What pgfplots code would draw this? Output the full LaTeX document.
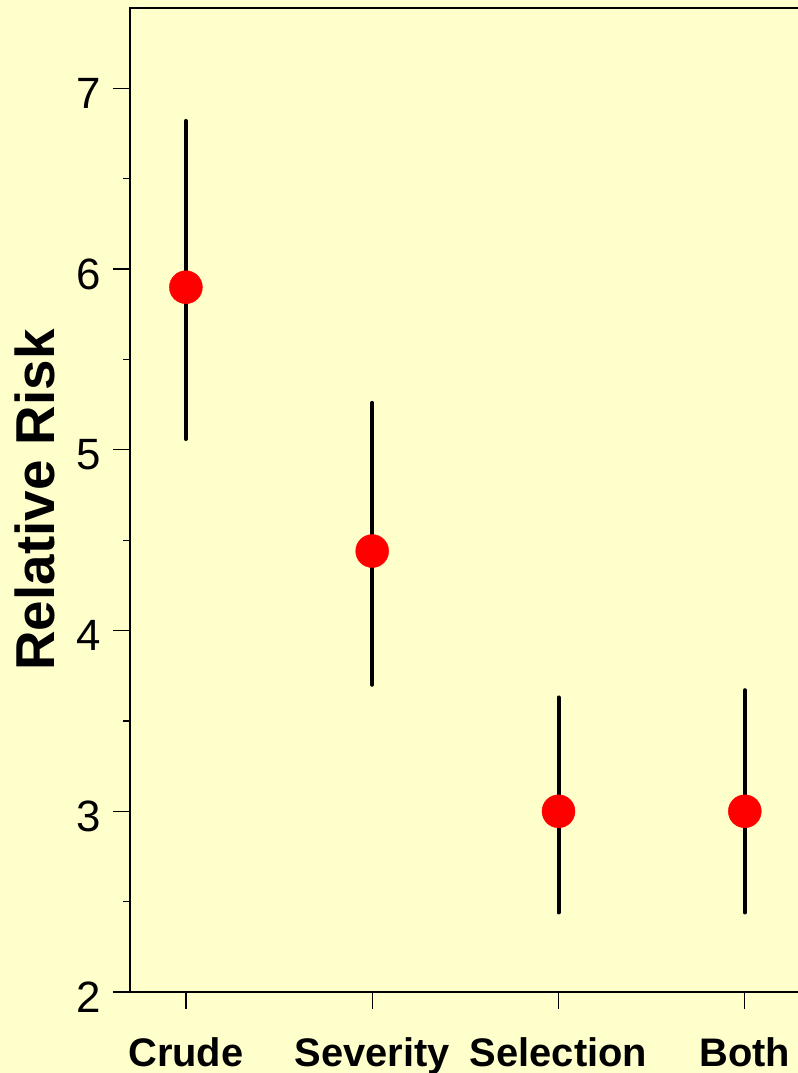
\documentclass[border=0pt]{standalone}
\usepackage{pgfplots}
\pgfplotsset{compat=1.18}
\usepackage{pgfplotstable}
\usepackage{fontspec}
\setmainfont{Liberation Sans}
\definecolor{bg}{HTML}{FFFFCC}
\pgfplotstableread{
x y lo hi
0 5.90 5.06 6.82
1 4.44 3.70 5.26
2 3.00 2.44 3.63
3 3.00 2.44 3.67
}\datatable
\begin{document}
\begin{tikzpicture}
\fill[bg] (-130bp,-81bp) rectangle (668bp,992bp);
\begin{axis}[
  at={(0,0)}, anchor=south west,
  scale only axis, width=670.7bp, height=984bp,
  xmin=-0.3, xmax=3.3, ymin=2, ymax=7.445,
  xtick={0,1,2,3}, xticklabels={Crude,Severity,Selection,Both},
  ytick={2,3,4,5,6,7}, minor ytick={2.5,3.5,4.5,5.5,6.5},
  tick align=outside, major tick length=17bp, minor tick length=7bp,
  tick pos=left,
  axis line style={line width=2bp, black},
  tick style={line width=1.3bp, black},
  yticklabel style={font=\fontsize{44}{52}\selectfont, yshift=-5bp, xshift=-9bp},
  xticklabel style={font=\bfseries\fontsize{40}{48}\selectfont, yshift=-25bp},
  /pgf/number format/assume math mode=true,
  ylabel={Relative Risk},
  ylabel style={font=\bfseries\fontsize{55}{64}\selectfont, at={([xshift=-95bp]axis description cs:0,0.5)}, anchor=center},
]
\addplot[draw=none, mark=none, forget plot,
  error bars/.cd, y dir=both, y explicit, error mark=none,
  error bar style={draw=black, line width=4bp, line cap=round}]
  table[x=x, y=y, y error plus expr=\thisrow{hi}-\thisrow{y}, y error minus expr=\thisrow{y}-\thisrow{lo}] {\datatable};
\addplot[red, only marks, mark=*, mark size=16.5bp, mark options={fill=red, draw=red}]
  table[x=x, y=y] {\datatable};
\end{axis}
\pgfresetboundingbox
\useasboundingbox (-130bp,-81bp) rectangle (668bp,992bp);
\end{tikzpicture}
\end{document}
